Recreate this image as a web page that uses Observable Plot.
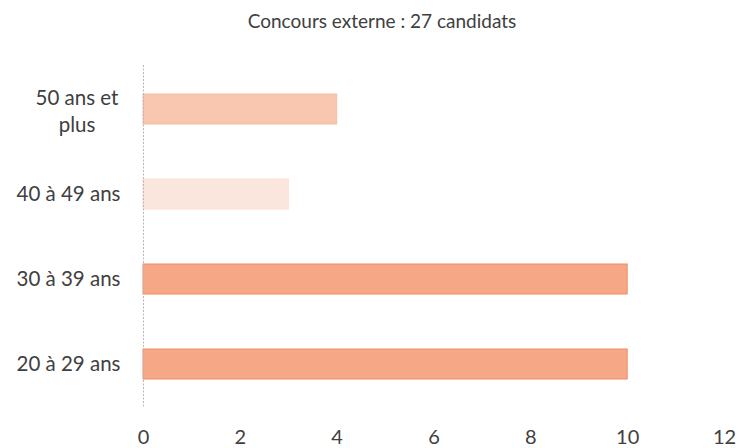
<!DOCTYPE html>
<html>
<head>
<meta charset="utf-8">
<script src="https://cdn.jsdelivr.net/npm/d3@7"></script>
<script src="https://cdn.jsdelivr.net/npm/@observablehq/plot@0.6"></script>
<style>
  html, body { margin: 0; padding: 0; background: #fff; }
  #wrap { width: 741px; height: 448px; position: relative; font-family: Lato, "Open Sans", sans-serif; }
  #title { height: 40px; line-height: 41px; text-align: center; font-size: 19px; color: #404040; padding-left: 23px; box-sizing: border-box; white-space: nowrap; }
</style>
</head>
<body>
<div id="wrap">
  <div id="title"></div>
  <div id="chart"></div>
</div>
<script>
const title = "Concours externe : 27 candidats";
const categories = ["50 ans et plus", "40 à 49 ans", "30 à 39 ans", "20 à 29 ans"];
const values = [4, 3, 10, 10];
const fills = ["#f9c6b0", "#fbe6de", "#f6a886", "#f6a886"];
const strokes = ["#f7bda4", "#fae0d6", "#ef8c62", "#ef8c62"];
const xTicks = [0, 2, 4, 6, 8, 10, 12];
const wrappedLabels = {"50 ans et plus": "50 ans et\nplus"};

document.getElementById("title").textContent = title;

const data = categories.map((c, i) => ({category: c, value: values[i], fill: fills[i], stroke: strokes[i]}));
const singleLine = categories.filter(c => !(c in wrappedLabels));
const multiLine = categories.filter(c => c in wrappedLabels);

const chart = Plot.plot({
  width: 741,
  height: 408,
  marginTop: 25,
  marginBottom: 41,
  marginLeft: 143,
  marginRight: 17,
  style: {fontFamily: "Lato, 'Open Sans', sans-serif", color: "#404040", background: "#fff"},
  x: {domain: [0, 12]},
  y: {domain: categories, paddingInner: 0.65, paddingOuter: 0.325},
  marks: [
    Plot.barX(data, {
      y: "category", x: "value",
      fill: d => d.fill, stroke: d => d.stroke, strokeWidth: 1
    }),
    Plot.ruleX([0], {stroke: "#b8b8b8", strokeDasharray: "2,1.5", strokeWidth: 1}),
    Plot.axisX({ticks: xTicks, tickSize: 0, tickPadding: 22, fontSize: 20, label: null, fill: "#404040"}),
    Plot.axisY({ticks: singleLine, tickSize: 0, tickPadding: 23, textAnchor: "end", fontSize: 20.5,
      label: null, fill: "#404040"}),
    Plot.axisY({ticks: multiLine, tickSize: 0, tickPadding: 66.5, textAnchor: "middle", fontSize: 20.5, lineHeight: 1.35,
      tickFormat: d => wrappedLabels[d], label: null, fill: "#404040"})
  ]
});
document.getElementById("chart").appendChild(chart);
</script>
</body>
</html>
